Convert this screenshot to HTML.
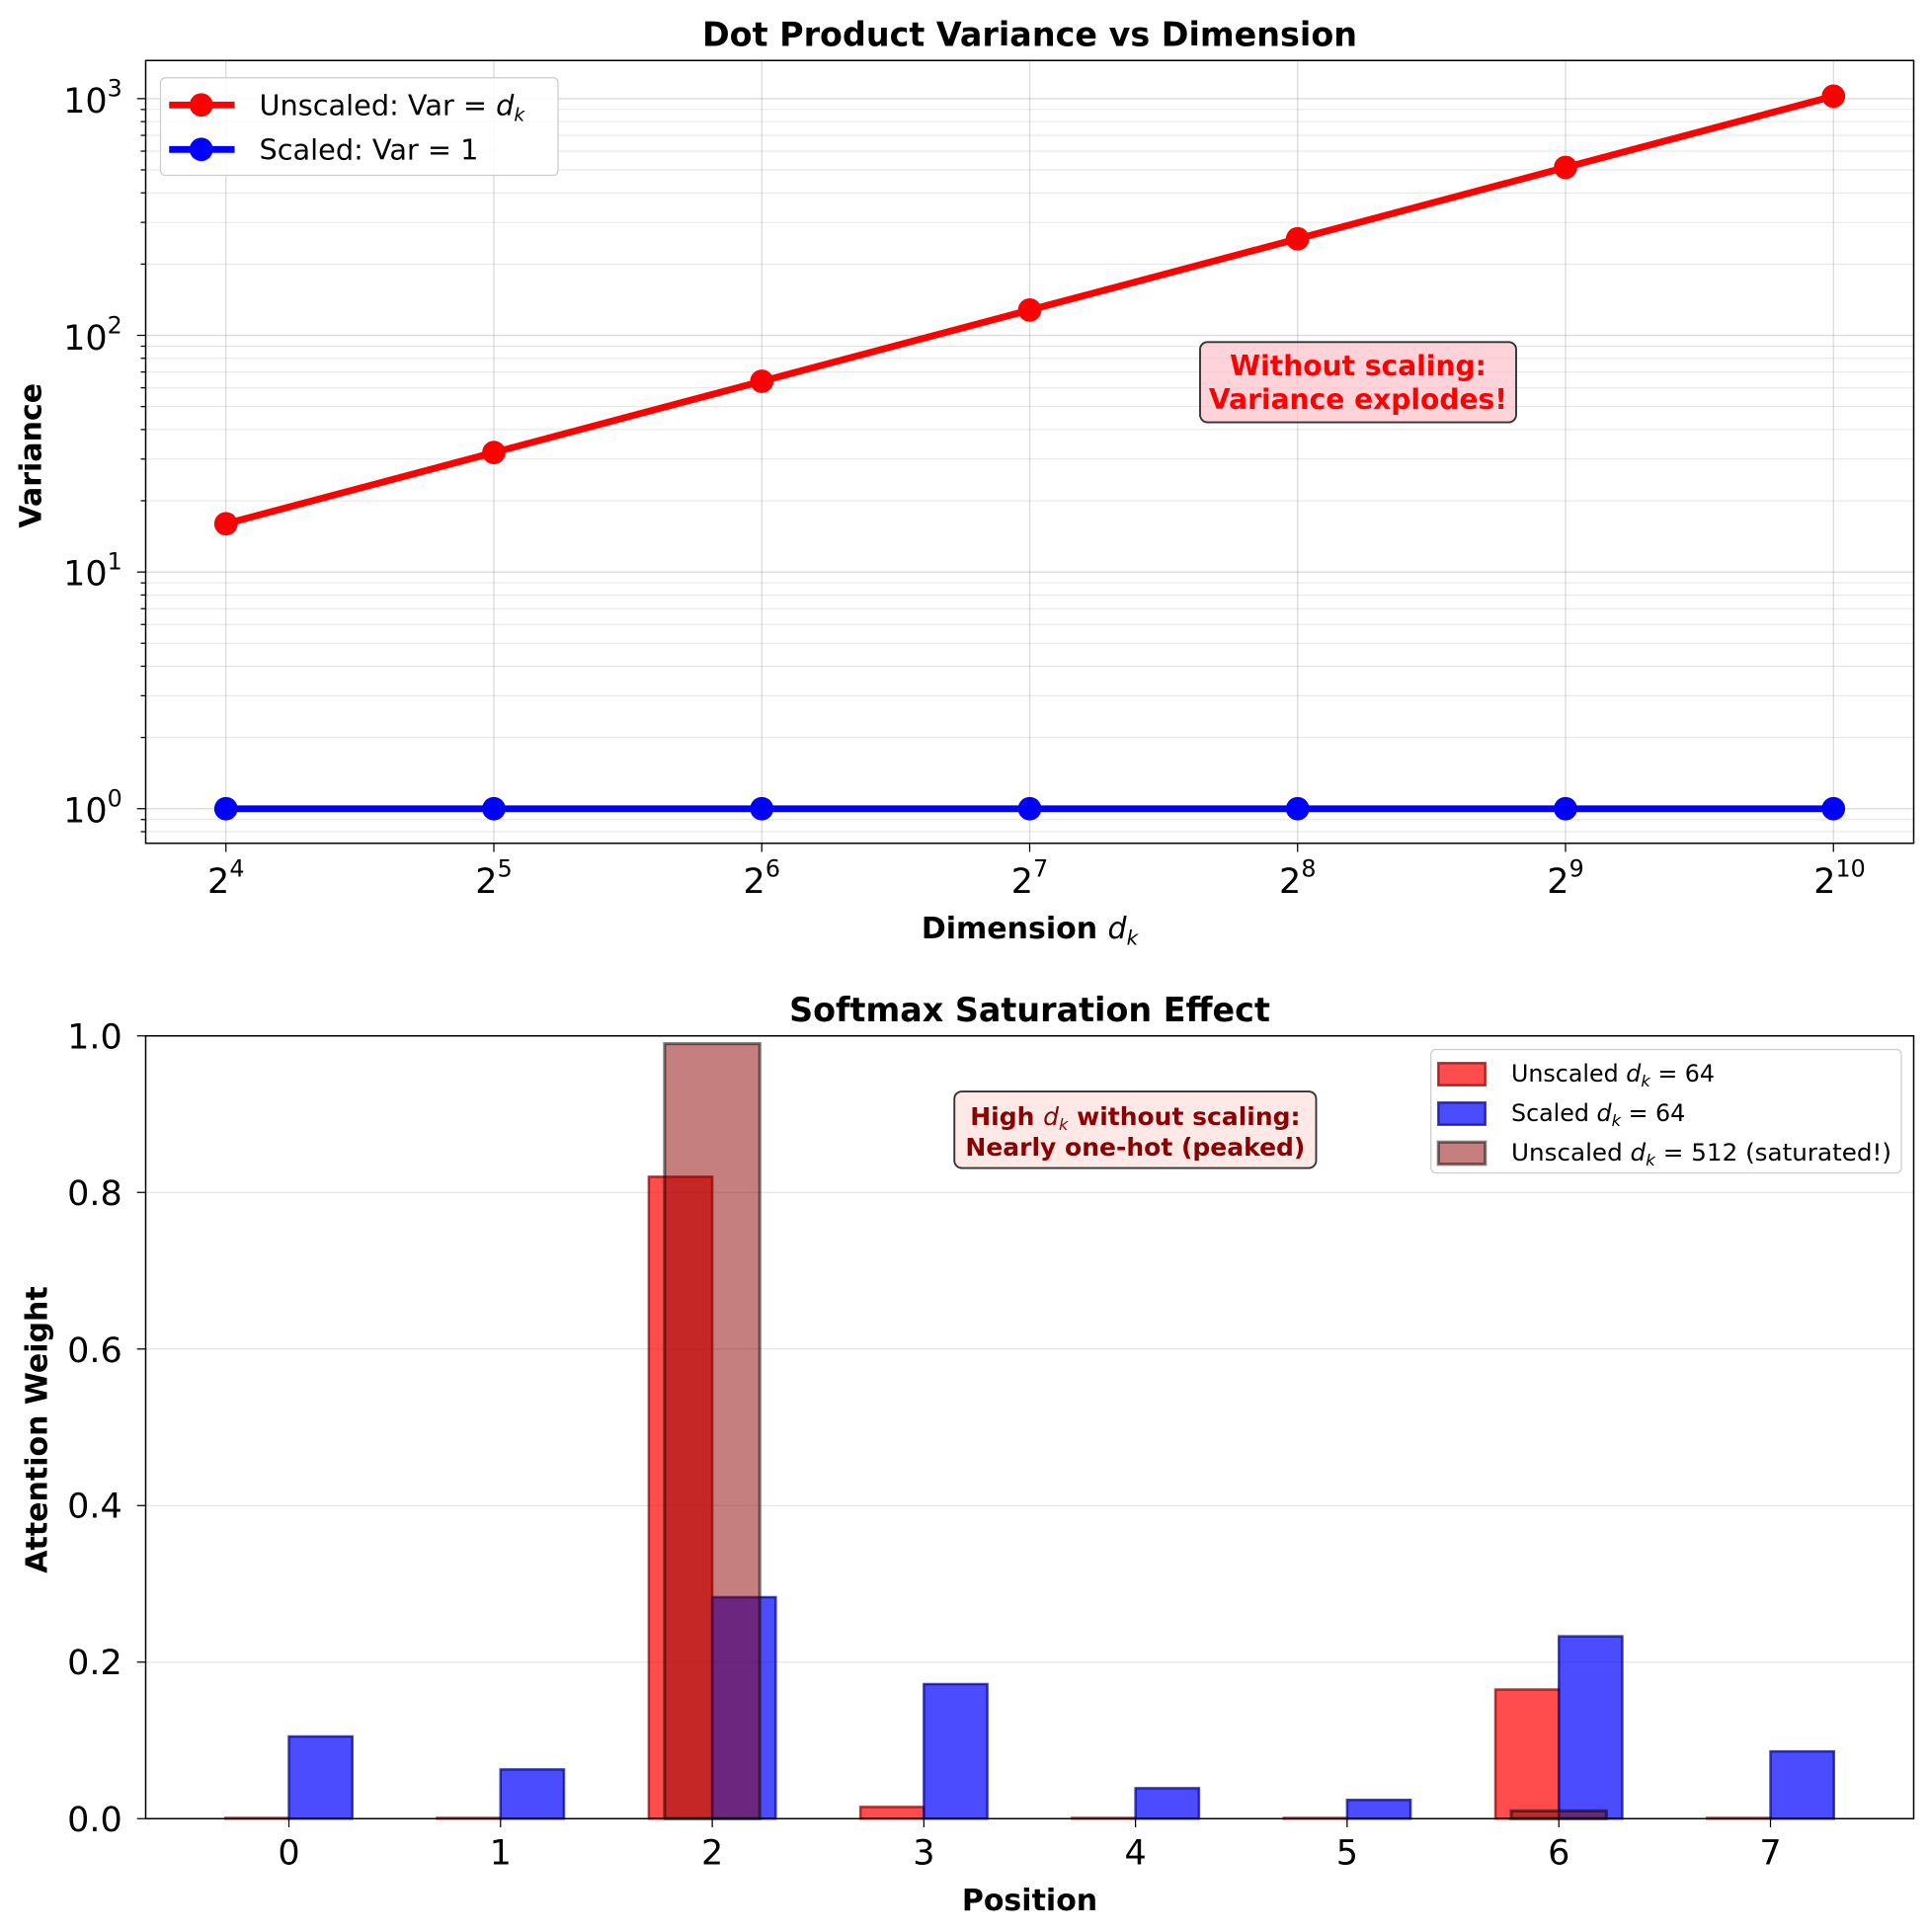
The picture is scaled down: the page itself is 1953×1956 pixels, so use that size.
<!DOCTYPE html>
<html><head><meta charset="utf-8"><style>html,body{margin:0;padding:0;background:#fff}svg{display:block}text{font-family:"DejaVu Sans","Liberation Sans",sans-serif}</style></head>
<body>
<svg width="1953" height="1956" viewBox="0 0 1562.4 1564.8" xmlns="http://www.w3.org/2000/svg">
<rect width="1562.4" height="1564.8" fill="#fff"/>
<!-- TOP -->
<text x="834" y="37" font-size="26.7" font-weight="bold" text-anchor="middle">Dot Product Variance vs Dimension</text>
<g stroke="#000" stroke-opacity="0.1" stroke-width="0.8">
<line x1="118" x2="1550" y1="673.6" y2="673.6"/><line x1="118" x2="1550" y1="663.8" y2="663.8"/>
<line x1="118" x2="1550" y1="597.3" y2="597.3"/><line x1="118" x2="1550" y1="563.5" y2="563.5"/><line x1="118" x2="1550" y1="539.6" y2="539.6"/><line x1="118" x2="1550" y1="521" y2="521"/><line x1="118" x2="1550" y1="505.8" y2="505.8"/><line x1="118" x2="1550" y1="493" y2="493"/><line x1="118" x2="1550" y1="481.9" y2="481.9"/><line x1="118" x2="1550" y1="472.1" y2="472.1"/>
<line x1="118" x2="1550" y1="405.6" y2="405.6"/><line x1="118" x2="1550" y1="371.8" y2="371.8"/><line x1="118" x2="1550" y1="347.9" y2="347.9"/><line x1="118" x2="1550" y1="329.3" y2="329.3"/><line x1="118" x2="1550" y1="314.1" y2="314.1"/><line x1="118" x2="1550" y1="301.3" y2="301.3"/><line x1="118" x2="1550" y1="290.2" y2="290.2"/><line x1="118" x2="1550" y1="280.4" y2="280.4"/>
<line x1="118" x2="1550" y1="213.9" y2="213.9"/><line x1="118" x2="1550" y1="180.1" y2="180.1"/><line x1="118" x2="1550" y1="156.2" y2="156.2"/><line x1="118" x2="1550" y1="137.6" y2="137.6"/><line x1="118" x2="1550" y1="122.4" y2="122.4"/><line x1="118" x2="1550" y1="109.6" y2="109.6"/><line x1="118" x2="1550" y1="98.5" y2="98.5"/><line x1="118" x2="1550" y1="88.7" y2="88.7"/>
</g>
<g stroke="#000" stroke-opacity="0.15" stroke-width="1">
<line x1="118" x2="1550" y1="655" y2="655"/><line x1="118" x2="1550" y1="463.3" y2="463.3"/><line x1="118" x2="1550" y1="271.6" y2="271.6"/><line x1="118" x2="1550" y1="79.9" y2="79.9"/>
<line x1="183" x2="183" y1="49" y2="683"/><line x1="400" x2="400" y1="49" y2="683"/><line x1="617" x2="617" y1="49" y2="683"/><line x1="834" x2="834" y1="49" y2="683"/><line x1="1051" x2="1051" y1="49" y2="683"/><line x1="1268" x2="1268" y1="49" y2="683"/><line x1="1485" x2="1485" y1="49" y2="683"/>
</g>
<g stroke="#000" stroke-width="1">
<line x1="114" x2="118" y1="673.6" y2="673.6"/><line x1="114" x2="118" y1="663.8" y2="663.8"/>
<line x1="114" x2="118" y1="597.3" y2="597.3"/><line x1="114" x2="118" y1="563.5" y2="563.5"/><line x1="114" x2="118" y1="539.6" y2="539.6"/><line x1="114" x2="118" y1="521" y2="521"/><line x1="114" x2="118" y1="505.8" y2="505.8"/><line x1="114" x2="118" y1="493" y2="493"/><line x1="114" x2="118" y1="481.9" y2="481.9"/><line x1="114" x2="118" y1="472.1" y2="472.1"/>
<line x1="114" x2="118" y1="405.6" y2="405.6"/><line x1="114" x2="118" y1="371.8" y2="371.8"/><line x1="114" x2="118" y1="347.9" y2="347.9"/><line x1="114" x2="118" y1="329.3" y2="329.3"/><line x1="114" x2="118" y1="314.1" y2="314.1"/><line x1="114" x2="118" y1="301.3" y2="301.3"/><line x1="114" x2="118" y1="290.2" y2="290.2"/><line x1="114" x2="118" y1="280.4" y2="280.4"/>
<line x1="114" x2="118" y1="213.9" y2="213.9"/><line x1="114" x2="118" y1="180.1" y2="180.1"/><line x1="114" x2="118" y1="156.2" y2="156.2"/><line x1="114" x2="118" y1="137.6" y2="137.6"/><line x1="114" x2="118" y1="122.4" y2="122.4"/><line x1="114" x2="118" y1="109.6" y2="109.6"/><line x1="114" x2="118" y1="98.5" y2="98.5"/><line x1="114" x2="118" y1="88.7" y2="88.7"/>
<line x1="111" x2="118" y1="655" y2="655"/><line x1="111" x2="118" y1="463.3" y2="463.3"/><line x1="111" x2="118" y1="271.6" y2="271.6"/><line x1="111" x2="118" y1="79.9" y2="79.9"/>
<line x1="183" x2="183" y1="683" y2="690"/><line x1="400" x2="400" y1="683" y2="690"/><line x1="617" x2="617" y1="683" y2="690"/><line x1="834" x2="834" y1="683" y2="690"/><line x1="1051" x2="1051" y1="683" y2="690"/><line x1="1268" x2="1268" y1="683" y2="690"/><line x1="1485" x2="1485" y1="683" y2="690"/>
</g>
<g font-size="28" text-anchor="end">
<text x="99" y="666">10<tspan font-size="19" dy="-13">0</tspan></text>
<text x="99" y="474">10<tspan font-size="19" dy="-13">1</tspan></text>
<text x="99" y="283">10<tspan font-size="19" dy="-13">2</tspan></text>
<text x="99" y="91">10<tspan font-size="19" dy="-13">3</tspan></text>
</g>
<g font-size="28" text-anchor="middle">
<text x="183" y="723">2<tspan font-size="19" dy="-13">4</tspan></text>
<text x="400" y="723">2<tspan font-size="19" dy="-13">5</tspan></text>
<text x="617" y="723">2<tspan font-size="19" dy="-13">6</tspan></text>
<text x="834" y="723">2<tspan font-size="19" dy="-13">7</tspan></text>
<text x="1051" y="723">2<tspan font-size="19" dy="-13">8</tspan></text>
<text x="1268" y="723">2<tspan font-size="19" dy="-13">9</tspan></text>
<text x="1490" y="723">2<tspan font-size="19" dy="-13">10</tspan></text>
</g>
<text x="834" y="760" font-size="24" font-weight="bold" text-anchor="middle">Dimension <tspan font-weight="normal" font-style="italic">d</tspan><tspan font-weight="normal" font-style="italic" font-size="16" dy="5">k</tspan></text>
<text transform="translate(33,369) rotate(-90)" font-size="24" font-weight="bold" text-anchor="middle">Variance</text>
<polyline points="183,655 1485,655" fill="none" stroke="#0000ff" stroke-width="5.5"/>
<g fill="#0000ff"><circle cx="183" cy="655" r="9.5"/><circle cx="400" cy="655" r="9.5"/><circle cx="617" cy="655" r="9.5"/><circle cx="834" cy="655" r="9.5"/><circle cx="1051" cy="655" r="9.5"/><circle cx="1268" cy="655" r="9.5"/><circle cx="1485" cy="655" r="9.5"/></g>
<polyline points="183,424.2 400,366.5 617,308.8 834,251.1 1051,193.4 1268,135.6 1485,77.9" fill="none" stroke="#ff0000" stroke-width="5.5"/>
<g fill="#ff0000"><circle cx="183" cy="424.2" r="9.5"/><circle cx="400" cy="366.5" r="9.5"/><circle cx="617" cy="308.8" r="9.5"/><circle cx="834" cy="251.1" r="9.5"/><circle cx="1051" cy="193.4" r="9.5"/><circle cx="1268" cy="135.6" r="9.5"/><circle cx="1485" cy="77.9" r="9.5"/></g>
<rect x="972" y="277" width="256" height="65" rx="6" fill="#ffc0cb" fill-opacity="0.7" stroke="#333" stroke-width="1.5"/>
<text x="1100" y="304" font-size="22.5" font-weight="bold" fill="#ff0000" text-anchor="middle">Without scaling:</text>
<text x="1100" y="331" font-size="22.5" font-weight="bold" fill="#ff0000" text-anchor="middle">Variance explodes!</text>
<rect x="130" y="63" width="322" height="79" rx="4" fill="#fff" fill-opacity="0.85" stroke="#ccc" stroke-width="1"/>
<line x1="137" x2="190" y1="85" y2="85" stroke="#ff0000" stroke-width="5.5"/><circle cx="163" cy="85" r="9.5" fill="#ff0000"/>
<line x1="137" x2="190" y1="121" y2="121" stroke="#0000ff" stroke-width="5.5"/><circle cx="163" cy="121" r="9.5" fill="#0000ff"/>
<text x="210" y="93" font-size="23">Unscaled: Var = <tspan font-style="italic">d</tspan><tspan font-style="italic" font-size="15" dy="5">k</tspan></text>
<text x="210" y="129" font-size="23">Scaled: Var = 1</text>
<rect x="118" y="49" width="1432" height="634" fill="none" stroke="#000" stroke-width="1.2"/>

<!-- BOTTOM -->
<text x="834" y="827" font-size="26.7" font-weight="bold" text-anchor="middle">Softmax Saturation Effect</text>
<g stroke="#000" stroke-opacity="0.1" stroke-width="1">
<line x1="118" x2="1550" y1="1346.2" y2="1346.2"/><line x1="118" x2="1550" y1="1219.4" y2="1219.4"/><line x1="118" x2="1550" y1="1092.6" y2="1092.6"/><line x1="118" x2="1550" y1="965.8" y2="965.8"/>
</g>
<g fill="#ff0000" fill-opacity="0.7" stroke="#8b0000" stroke-width="2" stroke-opacity="0.7">
<rect x="182.6" y="1472.4" width="51.4" height="0.6"/>
<rect x="354" y="1472.4" width="51.4" height="0.6"/>
<rect x="525.5" y="953.1" width="51.4" height="519.9"/>
<rect x="696.9" y="1463.5" width="51.4" height="9.5"/>
<rect x="868.3" y="1472.4" width="51.4" height="0.6"/>
<rect x="1039.7" y="1472.4" width="51.4" height="0.6"/>
<rect x="1211.2" y="1368.4" width="51.4" height="104.6"/>
<rect x="1382.6" y="1472.4" width="51.4" height="0.6"/>
</g>
<g fill="#0000ff" fill-opacity="0.7" stroke="#00008b" stroke-width="2" stroke-opacity="0.7">
<rect x="234" y="1406.4" width="51.4" height="66.6"/>
<rect x="405.4" y="1433.1" width="51.4" height="39.9"/>
<rect x="576.9" y="1293.6" width="51.4" height="179.4"/>
<rect x="748.3" y="1364" width="51.4" height="109"/>
<rect x="919.7" y="1448.3" width="51.4" height="24.7"/>
<rect x="1091.1" y="1457.8" width="51.4" height="15.2"/>
<rect x="1262.6" y="1325.3" width="51.4" height="147.7"/>
<rect x="1434" y="1418.5" width="51.4" height="54.5"/>
</g>
<g fill="#8b0000" fill-opacity="0.5" stroke="#000" stroke-width="2.5" stroke-opacity="0.5">
<rect x="538.3" y="845.3" width="77.1" height="627.7"/>
<rect x="1224" y="1466.7" width="77.1" height="6.3"/>
</g>
<g stroke="#000" stroke-width="1">
<line x1="111" x2="118" y1="1473" y2="1473"/><line x1="111" x2="118" y1="1346.2" y2="1346.2"/><line x1="111" x2="118" y1="1219.4" y2="1219.4"/><line x1="111" x2="118" y1="1092.6" y2="1092.6"/><line x1="111" x2="118" y1="965.8" y2="965.8"/><line x1="111" x2="118" y1="839" y2="839"/>
<line x1="234" x2="234" y1="1473" y2="1480"/><line x1="405.4" x2="405.4" y1="1473" y2="1480"/><line x1="576.9" x2="576.9" y1="1473" y2="1480"/><line x1="748.3" x2="748.3" y1="1473" y2="1480"/><line x1="919.7" x2="919.7" y1="1473" y2="1480"/><line x1="1091.1" x2="1091.1" y1="1473" y2="1480"/><line x1="1262.6" x2="1262.6" y1="1473" y2="1480"/><line x1="1434" x2="1434" y1="1473" y2="1480"/>
</g>
<g font-size="28" text-anchor="end">
<text x="99" y="1483">0.0</text><text x="99" y="1356">0.2</text><text x="99" y="1229">0.4</text><text x="99" y="1103">0.6</text><text x="99" y="976">0.8</text><text x="99" y="849">1.0</text>
</g>
<g font-size="28" text-anchor="middle">
<text x="234" y="1510">0</text><text x="405.4" y="1510">1</text><text x="576.9" y="1510">2</text><text x="748.3" y="1510">3</text><text x="919.7" y="1510">4</text><text x="1091.1" y="1510">5</text><text x="1262.6" y="1510">6</text><text x="1434" y="1510">7</text>
</g>
<text x="834" y="1547" font-size="24" font-weight="bold" text-anchor="middle">Position</text>
<text transform="translate(38,1158) rotate(-90)" font-size="24" font-weight="bold" text-anchor="middle">Attention Weight</text>
<rect x="773" y="884" width="293" height="62" rx="6" fill="#ffe4e1" fill-opacity="0.8" stroke="#333" stroke-width="1.5"/>
<text x="919.5" y="911" font-size="20" font-weight="bold" fill="#8b0000" text-anchor="middle">High <tspan font-weight="normal" font-style="italic">d</tspan><tspan font-weight="normal" font-style="italic" font-size="13" dy="4">k</tspan><tspan dy="-4"> without scaling:</tspan></text>
<text x="919.5" y="936" font-size="20" font-weight="bold" fill="#8b0000" text-anchor="middle">Nearly one-hot (peaked)</text>
<rect x="1159" y="850" width="381" height="100" rx="4" fill="#fff" fill-opacity="0.85" stroke="#ccc" stroke-width="1"/>
<rect x="1165" y="861" width="38" height="18" fill="#ff0000" fill-opacity="0.7" stroke="#8b0000" stroke-opacity="0.7" stroke-width="2"/>
<rect x="1165" y="893" width="38" height="18" fill="#0000ff" fill-opacity="0.7" stroke="#00008b" stroke-opacity="0.7" stroke-width="2"/>
<rect x="1165" y="925" width="38" height="18" fill="#8b0000" fill-opacity="0.5" stroke="#000" stroke-opacity="0.5" stroke-width="2.5"/>
<g font-size="19">
<text x="1224" y="876">Unscaled <tspan font-style="italic">d</tspan><tspan font-style="italic" font-size="13" dy="4">k</tspan><tspan dy="-4"> = 64</tspan></text>
<text x="1224" y="908">Scaled <tspan font-style="italic">d</tspan><tspan font-style="italic" font-size="13" dy="4">k</tspan><tspan dy="-4"> = 64</tspan></text>
<text x="1224" y="940" textLength="308" lengthAdjust="spacingAndGlyphs">Unscaled <tspan font-style="italic">d</tspan><tspan font-style="italic" font-size="13" dy="4">k</tspan><tspan dy="-4"> = 512 (saturated!)</tspan></text>
</g>
<rect x="118" y="839" width="1432" height="634" fill="none" stroke="#000" stroke-width="1.2"/>
</svg>
</body></html>
